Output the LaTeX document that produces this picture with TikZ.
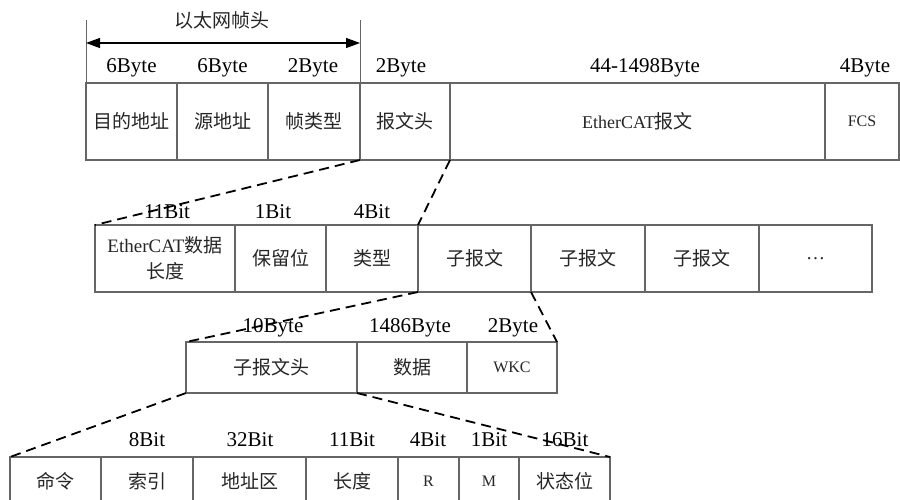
\documentclass[tikz,border=0pt]{standalone}
\usepackage{fontspec}
\setmainfont{Liberation Serif}
\newfontfamily\cjk{Noto Sans CJK SC}
\usetikzlibrary{arrows.meta}
\begin{document}
\begin{tikzpicture}[x=0.5pt,y=-0.5pt,
  box/.style 2 args={draw=black!60, line width=0.6pt, fill=white, inner sep=0pt, outer sep=0pt, text=black!85,
    minimum width=#1*0.5pt, minimum height=#2*0.5pt, font=\cjk\fontsize{9.5}{13}\selectfont, align=center},
  lbl/.style={font=\fontsize{10.5}{12}\selectfont, inner sep=0pt},
  zoomline/.style={line width=0.9pt, dash pattern=on 5pt off 3pt},
  dim/.style={draw=black!60, line width=0.5pt}]
\useasboundingbox (0,0) rectangle (900,499);
% Row 1
\node[box={91}{77}] (r1a) at (131.5,121.5) {目的地址};
\node[box={91}{77}] (r1b) at (222.5,121.5) {源地址};
\node[box={92}{77}] (r1c) at (314,121.5) {帧类型};
\node[box={90}{77}] (r1d) at (405,121.5) {报文头};
\node[box={375}{77}] (r1e) at (637.5,121.5) {{\rmfamily\fontsize{9}{12}\selectfont EtherCAT}报文};
\node[box={74}{77}] (r1f) at (862,121.5) {\rmfamily\fontsize{8}{10}\selectfont FCS};
\node[lbl] (l1a) at (131.5,68) {6Byte};
\node[lbl] (l1b) at (222.5,68) {6Byte};
\node[lbl] (l1c) at (313,68) {2Byte};
\node[lbl] (l1d) at (401,68) {2Byte};
\node[lbl] (l1e) at (645,68) {44-1498Byte};
\node[lbl] (l1f) at (865,68) {4Byte};
% ethernet header dimension
\coordinate (dl) at (86,20);
\coordinate (dr) at (360,20);
\draw[dim] (dl) -- (r1a.north west);
\draw[dim] (dr) -- (r1c.north east);
\draw[line width=0.6pt, {Triangle[length=7pt,width=5pt]}-{Triangle[length=7pt,width=5pt]}] (86,43) -- (360,43);
\node[font=\cjk\fontsize{9.5}{11}\selectfont, inner sep=0pt, text=black!85] (eth) at (222,20) {以太网帧头};
% Row 2
\node[box={140}{67}] (r2a) at (165,258.5) {{\rmfamily\fontsize{9.5}{13}\selectfont EtherCAT}数据\\长度};
\node[box={91}{67}] (r2b) at (280.5,258.5) {保留位};
\node[box={92}{67}] (r2c) at (372,258.5) {类型};
\node[box={113}{67}] (r2d) at (474.5,258.5) {子报文};
\node[box={114}{67}] (r2e) at (588,258.5) {子报文};
\node[box={114}{67}] (r2f) at (702,258.5) {子报文};
\node[box={113}{67}] (r2g) at (815.5,258.5) {\rmfamily …};
\node[lbl] (l2a) at (167,212) {11Bit};
\node[lbl] (l2b) at (273,212) {1Bit};
\node[lbl] (l2c) at (372,212) {4Bit};
\draw[zoomline] (r1c.south east) -- (r2a.north west);
\draw[zoomline] (r1d.south east) -- (r2c.north east);
% Row 3
\node[box={171}{51}] (r3a) at (271.5,367.5) {子报文头};
\node[box={110}{51}] (r3b) at (412,367.5) {数据};
\node[box={90}{51}] (r3c) at (512,367.5) {\rmfamily\fontsize{8}{10}\selectfont WKC};
\node[lbl] (l3a) at (273,328) {10Byte};
\node[lbl] (l3b) at (410,328) {1486Byte};
\node[lbl] (l3c) at (513,328) {2Byte};
\draw[zoomline] (r2c.south east) -- (r3a.north west);
\draw[zoomline] (r2d.south east) -- (r3c.north east);
% Row 4
\node[box={91}{48}] (r4a) at (55.5,481) {命令};
\node[box={92}{48}] (r4b) at (147,481) {索引};
\node[box={113}{48}] (r4c) at (249.5,481) {地址区};
\node[box={92}{48}] (r4d) at (352,481) {长度};
\node[box={61}{48}] (r4e) at (428.5,481) {\rmfamily\fontsize{8}{10}\selectfont R};
\node[box={60}{48}] (r4f) at (489,481) {\rmfamily\fontsize{8}{10}\selectfont M};
\node[box={91}{48}] (r4g) at (564.5,481) {状态位};
\node[lbl] (l4b) at (147,440) {8Bit};
\node[lbl] (l4c) at (250,440) {32Bit};
\node[lbl] (l4d) at (352,440) {11Bit};
\node[lbl] (l4e) at (428,440) {4Bit};
\node[lbl] (l4f) at (489,440) {1Bit};
\node[lbl] (l4g) at (565,440) {16Bit};
\draw[zoomline] (r3a.south west) -- (r4a.north west);
\draw[zoomline] (r3a.south east) -- (r4g.north east);
\end{tikzpicture}
\end{document}
